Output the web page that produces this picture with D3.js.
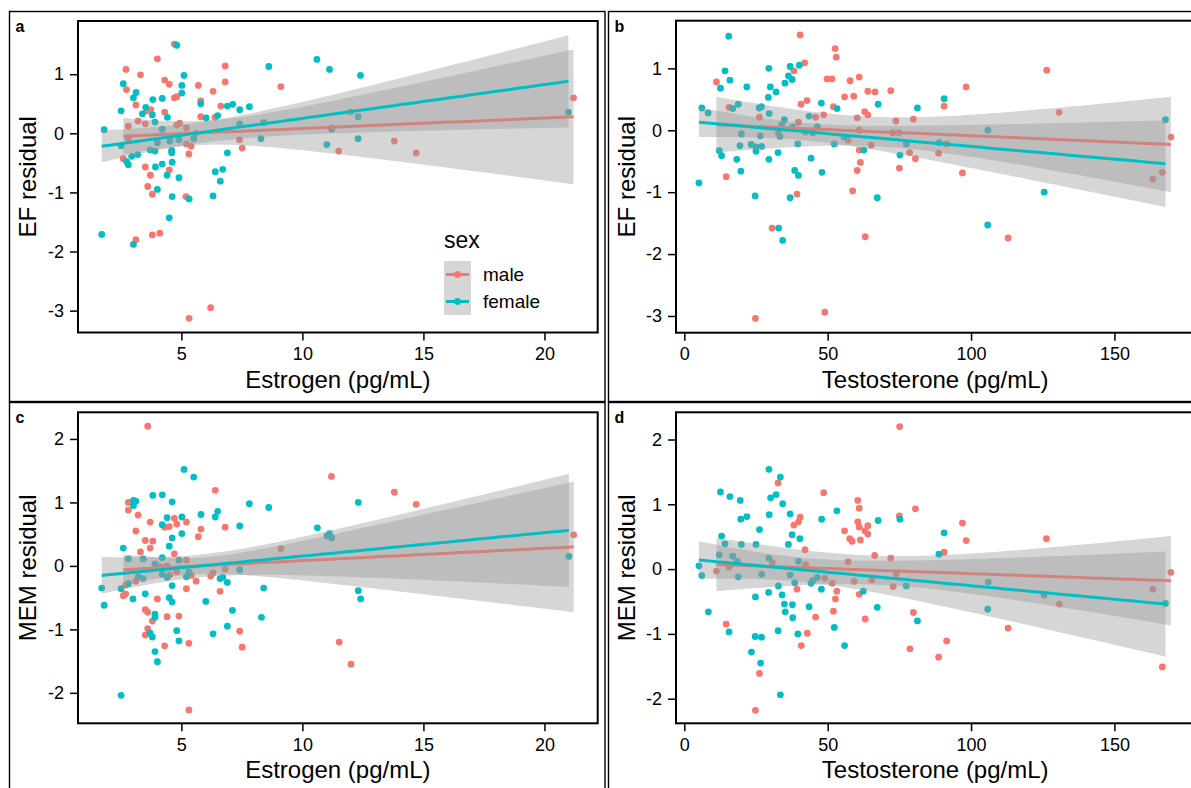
<!DOCTYPE html>
<html>
<head>
<meta charset="utf-8">
<script src="https://cdn.jsdelivr.net/npm/d3@7"></script>
<style>
body{margin:0;background:#fff}
text{font-family:"Liberation Sans",Arial,sans-serif}
</style>
</head>
<body>
<script>
// estrogen / testosterone vs residuals, [x, y] per person
var aMale=[[4.71,1.51],[4.01,1.26],[2.71,1.08],[3.31,0.99],[6.81,1.14],[4.31,0.90],[4.50,0.83],[6.81,0.87],[5.70,0.81],[2.73,0.74],[6.31,0.71],[4.71,0.60],[4.81,0.62],[5.80,0.55],[3.12,0.48],[6.63,0.46],[3.57,0.38],[3.74,0.40],[4.31,0.36],[5.80,0.28],[6.39,0.27],[3.21,0.21],[3.51,0.16],[2.81,0.12],[4.81,0.14],[4.93,0.17],[5.21,0.09],[5.60,0.00],[2.81,-0.08],[5.21,-0.18],[5.40,-0.22],[7.40,-0.11],[7.51,-0.25],[5.31,-0.35],[2.60,-0.43],[3.51,-0.57],[3.72,-0.71],[4.50,-0.62],[3.61,-0.90],[3.80,-1.03],[5.19,-1.07],[3.12,-1.80],[3.80,-1.72],[4.11,-1.69],[6.21,-2.95],[5.32,-3.13],[9.11,0.79],[12.00,0.36],[11.21,0.09],[11.50,-0.30],[13.80,-0.13],[14.70,-0.33],[21.20,0.60]]
var aFemale=[[4.81,1.49],[8.61,1.13],[5.11,0.98],[2.60,0.84],[5.02,0.81],[3.13,0.69],[3.02,0.60],[5.02,0.68],[4.21,0.59],[3.82,0.57],[5.80,0.50],[3.53,0.44],[6.90,0.46],[7.12,0.49],[7.41,0.40],[7.81,0.45],[2.51,0.38],[3.39,0.33],[3.80,0.31],[4.42,0.27],[6.02,0.26],[6.50,0.30],[1.81,0.06],[3.91,0.19],[7.41,0.16],[8.40,0.18],[4.21,0.07],[2.51,-0.21],[4.01,-0.16],[4.52,-0.13],[4.90,-0.11],[5.51,-0.09],[8.29,-0.09],[3.71,-0.28],[3.91,-0.30],[4.60,-0.29],[4.60,-0.33],[6.90,-0.33],[2.95,-0.39],[3.20,-0.36],[2.81,-0.53],[2.74,-0.48],[4.62,-0.49],[4.21,-0.52],[3.93,-0.57],[4.41,-0.71],[4.90,-0.75],[6.40,-0.65],[6.71,-0.61],[6.61,-0.81],[4.01,-0.95],[4.62,-1.07],[5.32,-1.11],[6.31,-1.06],[4.50,-1.43],[1.71,-1.71],[3.02,-1.88],[10.60,1.25],[11.12,1.08],[12.40,0.98],[12.30,0.28],[11.21,0.07],[11.01,-0.19],[12.30,-0.09],[20.99,0.36]]
var bMale=[[40.4,1.54],[52.6,1.32],[53.0,1.18],[42.0,1.09],[38.2,0.96],[49.8,0.83],[51.5,0.83],[57.8,0.80],[61.0,0.86],[11.2,0.78],[64.0,0.63],[66.5,0.62],[72.0,0.64],[55.9,0.54],[59.1,0.55],[42.8,0.48],[40.7,0.42],[52.0,0.38],[15.6,0.37],[26.2,0.21],[62.9,0.30],[64.0,0.25],[45.8,0.21],[48.6,0.25],[60.3,0.20],[73.8,0.15],[79.9,0.18],[39.8,0.13],[61.0,0.00],[32.8,-0.05],[42.2,-0.03],[72.7,-0.04],[74.8,-0.04],[57.1,-0.16],[65.2,-0.24],[61.0,-0.32],[78.6,-0.36],[80.6,-0.46],[61.4,-0.52],[75.0,-0.61],[60.3,-0.65],[14.6,-0.75],[58.7,-0.98],[39.3,-1.03],[30.6,-1.58],[63.1,-1.72],[49.0,-2.94],[24.8,-3.04],[126.4,0.97],[98.3,0.70],[90.6,0.39],[130.7,0.29],[169.7,-0.11],[91.5,-0.22],[88.7,-0.37],[97.0,-0.69],[163.4,-0.79],[166.7,-0.68],[112.9,-1.74]]
var bFemale=[[15.5,1.52],[40.1,1.05],[36.9,1.03],[29.5,1.00],[14.2,0.96],[36.3,0.88],[37.6,0.82],[35.1,0.76],[15.9,0.81],[12.6,0.68],[21.8,0.70],[30.0,0.70],[32.0,0.62],[29.3,0.53],[47.8,0.44],[67.6,0.42],[81.3,0.36],[53.3,0.35],[6.1,0.36],[8.3,0.28],[16.9,0.35],[18.8,0.42],[26.1,0.36],[26.9,0.38],[29.6,0.27],[43.5,0.23],[34.9,0.17],[34.0,0.09],[37.8,0.05],[46.4,0.06],[33.4,-0.10],[44.8,-0.04],[19.9,-0.06],[26.5,-0.09],[55.7,-0.11],[39.6,-0.22],[52.3,-0.22],[19.4,-0.25],[23.3,-0.23],[25.0,-0.27],[27.0,-0.26],[77.4,-0.22],[12.2,-0.33],[13.0,-0.41],[25.0,-0.34],[32.7,-0.36],[62.6,-0.32],[75.2,-0.40],[18.3,-0.47],[29.5,-0.47],[44.2,-0.45],[19.7,-0.66],[38.5,-0.65],[39.8,-0.73],[48.0,-0.68],[5.1,-0.85],[24.7,-1.06],[36.9,-1.09],[67.3,-1.09],[32.9,-1.58],[34.3,-1.78],[90.6,0.51],[167.8,0.17],[105.9,0.00],[88.9,-0.20],[125.5,-1.00],[105.8,-1.53]]
var cMale=[[3.61,2.20],[6.40,1.19],[2.81,1.00],[2.81,0.88],[3.21,0.80],[4.71,0.75],[4.81,0.66],[5.21,0.69],[3.71,0.69],[4.31,0.61],[4.50,0.62],[6.81,0.61],[5.81,0.58],[3.12,0.55],[5.70,0.46],[3.51,0.40],[3.82,0.39],[3.71,0.28],[9.11,0.27],[3.31,0.22],[4.71,0.19],[5.21,0.09],[4.41,0.00],[4.12,-0.01],[4.81,-0.09],[5.41,-0.15],[5.61,-0.24],[4.52,-0.14],[3.12,-0.24],[6.21,-0.16],[6.31,-0.11],[6.81,-0.05],[2.70,-0.30],[2.60,-0.47],[2.70,-0.44],[5.21,-0.36],[6.60,-0.40],[4.01,-0.52],[3.51,-0.69],[3.61,-0.73],[4.41,-0.80],[4.90,-0.79],[3.80,-0.87],[3.61,-0.99],[3.51,-1.09],[7.41,-1.03],[4.31,-1.26],[5.31,-1.22],[7.51,-1.28],[5.31,-2.27],[11.20,1.41],[13.80,1.16],[14.70,0.97],[21.21,0.49],[11.52,-1.20],[12.01,-1.55]]
var cFemale=[[5.11,1.52],[5.51,1.40],[3.82,1.11],[4.21,1.12],[4.62,1.01],[3.02,1.03],[3.12,1.02],[3.02,0.95],[7.81,0.98],[8.61,0.92],[5.81,0.81],[6.50,0.86],[6.40,0.77],[4.41,0.76],[5.02,0.77],[4.21,0.65],[7.41,0.63],[5.02,0.51],[4.62,0.44],[4.50,0.31],[2.60,0.28],[2.81,0.11],[3.42,0.11],[4.21,0.13],[4.90,0.09],[3.91,0.03],[4.21,-0.13],[4.41,-0.18],[5.31,-0.10],[5.21,-0.17],[3.22,-0.17],[3.42,-0.20],[2.81,-0.28],[6.60,-0.20],[6.71,-0.18],[6.90,-0.26],[7.41,-0.06],[1.71,-0.35],[2.51,-0.36],[4.62,-0.31],[8.40,-0.35],[3.51,-0.44],[3.00,-0.52],[4.50,-0.50],[4.62,-0.57],[6.01,-0.56],[1.81,-0.62],[7.11,-0.70],[3.91,-0.76],[3.91,-0.81],[8.31,-0.81],[6.90,-0.95],[3.71,-1.06],[3.80,-1.12],[4.81,-1.02],[6.31,-1.07],[4.90,-1.18],[3.91,-1.35],[4.01,-1.51],[2.51,-2.04],[12.31,1.00],[10.62,0.60],[11.01,0.47],[11.12,0.51],[11.21,0.44],[21.01,0.15],[12.31,-0.39],[12.41,-0.52]]
var dMale=[[75.1,2.20],[32.7,1.33],[48.6,1.18],[60.5,1.06],[61.0,0.94],[80.6,0.93],[75.0,0.82],[40.4,0.80],[39.8,0.73],[38.2,0.68],[60.5,0.73],[61.0,0.65],[64.0,0.67],[63.0,0.59],[64.0,0.54],[55.9,0.59],[57.7,0.47],[58.5,0.43],[61.4,0.45],[42.1,0.30],[66.4,0.21],[72.0,0.17],[30.7,0.10],[42.3,0.07],[57.1,0.11],[15.6,0.03],[11.2,-0.03],[73.9,-0.07],[49.0,-0.14],[51.6,-0.22],[59.2,-0.19],[65.4,-0.17],[72.8,-0.27],[39.3,-0.31],[53.2,-0.34],[52.7,-0.46],[61.0,-0.39],[52.0,-0.65],[45.8,-0.74],[63.1,-0.77],[79.9,-0.67],[14.6,-0.85],[42.9,-0.99],[40.8,-1.18],[78.7,-1.23],[26.2,-1.61],[24.8,-2.18],[97.0,0.71],[98.3,0.44],[126.3,0.47],[90.6,0.26],[169.7,-0.05],[163.4,-0.31],[130.8,-0.54],[112.9,-0.91],[91.5,-1.11],[88.7,-1.36],[166.7,-1.51]]
var dFemale=[[29.5,1.54],[33.5,1.42],[12.6,1.19],[15.9,1.12],[19.5,1.06],[30.1,1.10],[32.0,1.15],[34.3,1.01],[53.2,0.90],[29.6,0.84],[36.9,0.85],[19.7,0.77],[21.8,0.81],[47.9,0.77],[67.6,0.75],[75.2,0.77],[26.2,0.61],[37.6,0.53],[40.3,0.47],[13.0,0.51],[14.2,0.39],[19.9,0.38],[25.0,0.38],[36.3,0.38],[12.2,0.22],[16.9,0.20],[18.5,0.12],[29.5,0.17],[39.8,0.12],[5.1,0.05],[6.1,-0.10],[18.8,-0.12],[27.0,-0.08],[36.9,-0.09],[38.5,-0.21],[44.2,-0.22],[44.8,-0.18],[46.4,-0.13],[77.4,-0.26],[32.8,-0.26],[47.8,-0.31],[62.4,-0.34],[24.8,-0.43],[29.4,-0.36],[34.1,-0.40],[34.9,-0.54],[37.7,-0.55],[43.5,-0.58],[67.3,-0.59],[35.2,-0.66],[37.8,-0.75],[8.4,-0.66],[81.3,-0.80],[15.6,-0.97],[52.3,-0.90],[32.7,-0.95],[39.6,-1.00],[24.7,-1.04],[26.9,-1.05],[55.9,-1.18],[23.4,-1.28],[26.6,-1.45],[33.5,-1.94],[90.6,0.56],[88.8,0.23],[106.0,-0.20],[125.5,-0.40],[167.8,-0.53],[105.8,-0.62]]

// lm fits: [y at min x, y at max x, CI half width at min x, at max x]
var fitA={male:[-0.05,0.28,0.31,1.14],female:[-0.22,0.88,0.27,0.78]}
var fitB={male:[0.09,-0.23,0.45,0.77],female:[0.13,-0.54,0.24,0.70]}
var fitC={male:[-0.06,0.30,0.24,1.03],female:[-0.15,0.56,0.29,0.89]}
var fitD={male:[0.07,-0.18,0.41,0.69],female:[0.14,-0.54,0.29,0.81]}

var estTicks=[5,10,15,20]
var testoTicks=[0,50,100,150]
var efTicks=[-3,-2,-1,0,1]
var memTicks=[-2,-1,0,1,2]
var sexes=['male','female']
var colors={male:'#F8766D',female:'#00BFC4'}

var svg=d3.select('body').append('svg').attr('width',1191).attr('height',788)

var panels=[
 {tag:'a',box:[9.5,11.5,595.5,390],plot:[78,21,597.7,332.5],xd:[0.73,22.2],yd:[-3.37,1.90],xt:estTicks,yt:efTicks,
  data:{male:aMale,female:aFemale},fit:fitA,xlab:'Estrogen (pg/mL)',ylab:'EF residual',legend:true},
 {tag:'b',box:[608.5,11.5,600,390],plot:[676,20.7,1194.4,332.7],xd:[-2.9,177.9],yd:[-3.27,1.77],xt:testoTicks,yt:efTicks,
  data:{male:bMale,female:bFemale},fit:fitB,xlab:'Testosterone (pg/mL)',ylab:'EF residual'},
 {tag:'c',box:[9.5,402.5,595.5,400],plot:[78,412.3,597.7,723.3],xd:[0.73,22.2],yd:[-2.48,2.42],xt:estTicks,yt:memTicks,
  data:{male:cMale,female:cFemale},fit:fitC,xlab:'Estrogen (pg/mL)',ylab:'MEM residual'},
 {tag:'d',box:[608.5,402.5,600,400],plot:[676,412.3,1194.4,723.3],xd:[-2.9,177.9],yd:[-2.38,2.42],xt:testoTicks,yt:memTicks,
  data:{male:dMale,female:dFemale},fit:fitD,xlab:'Testosterone (pg/mL)',ylab:'MEM residual'}
]

function bandRows(pts,f){
  var xs=pts.map(function(d){return d[0]})
  var ext=d3.extent(xs), m=d3.mean(xs)
  var d0=(ext[0]-m)*(ext[0]-m), d1=(ext[1]-m)*(ext[1]-m)
  var B=(f[3]*f[3]-f[2]*f[2])/(d1-d0)
  var A=Math.max(f[2]*f[2]-B*d0,0.0004)
  return d3.range(0,81).map(function(i){
    var xv=ext[0]+(ext[1]-ext[0])*i/80
    var yv=f[0]+(f[1]-f[0])*(xv-ext[0])/(ext[1]-ext[0])
    var hw=Math.sqrt(A+B*(xv-m)*(xv-m))
    return [xv,yv,yv-hw,yv+hw]
  })
}

panels.forEach(function(p){
  var L=p.plot[0],T=p.plot[1],R=p.plot[2],Bm=p.plot[3]
  var x=d3.scaleLinear().domain(p.xd).range([L,R])
  var y=d3.scaleLinear().domain(p.yd).range([Bm,T])

  svg.append('rect').attr('x',p.box[0]).attr('y',p.box[1]).attr('width',p.box[2]).attr('height',p.box[3])
    .attr('fill','none').attr('stroke','#000').attr('stroke-width',1.4)
  svg.append('text').attr('x',p.box[0]+6).attr('y',p.box[1]+20).attr('font-size',16).attr('font-weight','bold').text(p.tag)

  var g=svg.append('g')
  sexes.forEach(function(s){
    g.selectAll(null).data(p.data[s]).enter().append('circle')
      .attr('cx',function(d){return x(d[0])}).attr('cy',function(d){return y(d[1])})
      .attr('r',3.4).attr('fill',colors[s])
  })
  sexes.forEach(function(s){
    var rows=bandRows(p.data[s],p.fit[s])
    g.append('path').datum(rows)
      .attr('d',d3.area().x(function(d){return x(d[0])}).y0(function(d){return y(d[2])}).y1(function(d){return y(d[3])}))
      .attr('fill','#999999').attr('fill-opacity',0.4)
    g.append('path').datum(rows)
      .attr('d',d3.line().x(function(d){return x(d[0])}).y(function(d){return y(d[1])}))
      .attr('fill','none').attr('stroke',colors[s]).attr('stroke-width',3)
  })

  svg.append('rect').attr('x',L).attr('y',T).attr('width',R-L).attr('height',Bm-T)
    .attr('fill','none').attr('stroke','#000').attr('stroke-width',2)

  var xa=svg.append('g').attr('transform','translate(0,'+Bm+')')
    .call(d3.axisBottom(x).tickValues(p.xt).tickSize(8).tickPadding(7).tickFormat(function(d){return String(d)}))
  var ya=svg.append('g').attr('transform','translate('+L+',0)')
    .call(d3.axisLeft(y).tickValues(p.yt).tickSize(8).tickPadding(6).tickFormat(function(d){return String(d)}))
  ;[xa,ya].forEach(function(a){
    a.select('.domain').remove()
    a.selectAll('line').attr('stroke','#000').attr('stroke-width',1.5)
    a.selectAll('text').attr('font-size',18).attr('fill','#000').attr('font-family','"Liberation Sans",Arial,sans-serif')
  })

  svg.append('text').attr('x',(L+Math.min(R,1194.4))/2).attr('y',Bm+55).attr('text-anchor','middle')
    .attr('font-size',24).text(p.xlab)
  svg.append('text').attr('transform','translate('+(p.box[0]+26.5)+','+((T+Bm)/2)+') rotate(-90)')
    .attr('text-anchor','middle').attr('font-size',24).text(p.ylab)

  if(p.legend){
    var lg=svg.append('g').attr('transform','translate(444,0)')
    lg.append('text').attr('x',0).attr('y',248).attr('font-size',23).text('sex')
    sexes.forEach(function(s,i){
      var ky=261+i*27
      lg.append('rect').attr('x',0).attr('y',ky).attr('width',27).attr('height',27).attr('fill','#999999').attr('fill-opacity',0.4)
      lg.append('line').attr('x1',2).attr('x2',25).attr('y1',ky+13.5).attr('y2',ky+13.5).attr('stroke',colors[s]).attr('stroke-width',3)
      lg.append('circle').attr('cx',13.5).attr('cy',ky+13.5).attr('r',3.4).attr('fill',colors[s])
      lg.append('text').attr('x',39).attr('y',ky+20).attr('font-size',19).text(s)
    })
  }
})
</script>
</body>
</html>
